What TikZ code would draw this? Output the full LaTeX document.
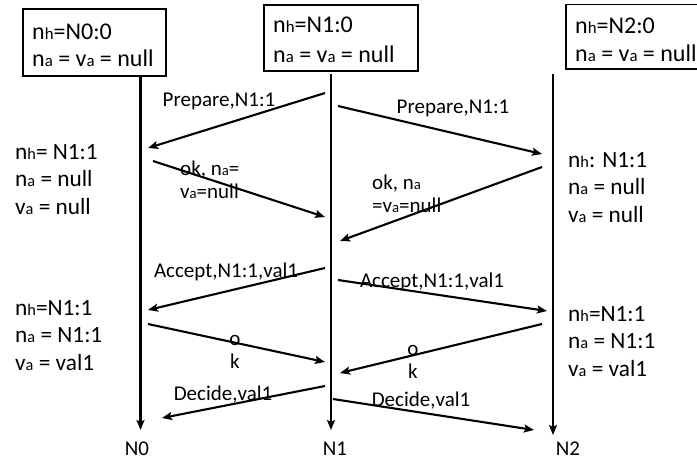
\documentclass[tikz,border=0pt]{standalone}
\usepackage{fontspec}
\setmainfont{Carlito}
\usetikzlibrary{arrows.meta}
\newcommand\sbx[1]{\scalebox{0.7}{#1}}
\tikzset{
  msg/.style={line width=2.1pt,-{Stealth[length=10pt,width=8pt,inset=2pt]}},
  life/.style={line width=2.1pt,-{Stealth[length=10pt,width=8pt,inset=2pt]}},
  box/.style={draw,line width=1.2pt},
  state/.style={anchor=base west,inner sep=0pt,font=\fontsize{23.3}{27.5}\selectfont},
  boxtxt/.style={anchor=base west,inner sep=0pt,font=\fontsize{24}{27}\selectfont},
  lbl/.style={anchor=base,inner sep=0pt,font=\fontsize{21}{23.5}\selectfont},
  lbll/.style={anchor=base west,inner sep=0pt,font=\fontsize{21}{23.5}\selectfont},
}
\begin{document}
\begin{tikzpicture}[x=1pt,y=-1pt]
\useasboundingbox (0,0) rectangle (697,461);
% boxes
\draw[box] (23,9) rectangle (166,76);
\draw[box] (264,5) rectangle (418,71);
\draw[box] (566,4.5) rectangle (700,69);
\node[boxtxt] (b0) at (32,39) {\begin{tabular}[t]{@{}l@{}}n\sbx{h}=N0:0\\n\sbx{a} = v\sbx{a} = null\end{tabular}};
\node[boxtxt] (b1) at (273,32) {\begin{tabular}[t]{@{}l@{}}n\sbx{h}=N1:0\\[3pt]n\sbx{a} = v\sbx{a} = null\end{tabular}};
\node[boxtxt] (b2) at (575,33) {\begin{tabular}[t]{@{}l@{}}n\sbx{h}=N2:0\\[1pt]n\sbx{a} = v\sbx{a} = null\end{tabular}};
% lifelines
\coordinate (t0) at (140.5,76);
\coordinate (e0) at (140.5,430);
\coordinate (t1) at (331,74);
\coordinate (e1) at (331,430);
\coordinate (t2) at (553,74);
\coordinate (e2) at (553,435);
\draw[life] (t0) -- (e0);
\draw[life] (t1) -- (e1);
\draw[life] (t2) -- (e2);
\node[lbl] (n0) at (137,455) {N0};
\node[lbl] (n1) at (335,455) {N1};
\node[lbl] (n2) at (568,455) {N2};
% message endpoints
\coordinate (a1) at (325,93);  \coordinate (a1e) at (148,148);
\coordinate (a2) at (338,106); \coordinate (a2e) at (542,154);
\coordinate (a3) at (153,161); \coordinate (a3e) at (325,217);
\coordinate (a4) at (542,167); \coordinate (a4e) at (340,241);
\coordinate (a5) at (325,268); \coordinate (a5e) at (148,310);
\coordinate (a6) at (338,280); \coordinate (a6e) at (547,311);
\coordinate (a7) at (148,324); \coordinate (a7e) at (325,362);
\coordinate (a8) at (542,324); \coordinate (a8e) at (340,373);
\coordinate (a9) at (325,386); \coordinate (a9e) at (162,418);
\coordinate (a10) at (333,399); \coordinate (a10e) at (534,430);
\draw[msg] (a1) -- (a1e);
\draw[msg] (a2) -- (a2e);
\draw[msg] (a3) -- (a3e);
\draw[msg] (a4) -- (a4e);
\draw[msg] (a5) -- (a5e);
\draw[msg] (a6) -- (a6e);
\draw[msg] (a7) -- (a7e);
\draw[msg] (a8) -- (a8e);
\draw[msg] (a9) -- (a9e);
\draw[msg] (a10) -- (a10e);
% labels
\node[lbl] (l1) at (219,106) {Prepare,N1:1};
\node[lbl] (l2) at (453,113) {Prepare,N1:1};
\node[lbll] (l3) at (180,175) {\begin{tabular}[t]{@{}l@{}}ok, n\sbx{a}=\\v\sbx{a}=null\end{tabular}};
\node[lbll] (l4) at (372,189) {\begin{tabular}[t]{@{}l@{}}ok, n\sbx{a}\\=v\sbx{a}=null\end{tabular}};
\node[lbl] (l5) at (226,277) {Accept,N1:1,val1};
\node[lbl] (l6) at (432,287) {Accept,N1:1,val1};
\node[lbl] (l7) at (235,345) {\begin{tabular}[t]{@{}c@{}}o\\k\end{tabular}};
\node[lbl] (l8) at (413,355) {\begin{tabular}[t]{@{}c@{}}o\\k\end{tabular}};
\node[lbl] (l9) at (223,400) {Decide,val1};
\node[lbl] (l10) at (421,406) {Decide,val1};
% states
\node[state] (s0a) at (15,159) {\begin{tabular}[t]{@{}l@{}}n\sbx{h}= N1:1\\n\sbx{a} = null\\v\sbx{a} = null\end{tabular}};
\node[state] (s0b) at (15,315) {\begin{tabular}[t]{@{}l@{}}n\sbx{h}=N1:1\\n\sbx{a} = N1:1\\v\sbx{a} = val1\end{tabular}};
\node[state] (s2a) at (568,167) {\begin{tabular}[t]{@{}l@{}}n\sbx{h}: N1:1\\n\sbx{a} = null\\v\sbx{a} = null\end{tabular}};
\node[state] (s2b) at (568,321) {\begin{tabular}[t]{@{}l@{}}n\sbx{h}=N1:1\\n\sbx{a} = N1:1\\v\sbx{a} = val1\end{tabular}};
\end{tikzpicture}
\end{document}
